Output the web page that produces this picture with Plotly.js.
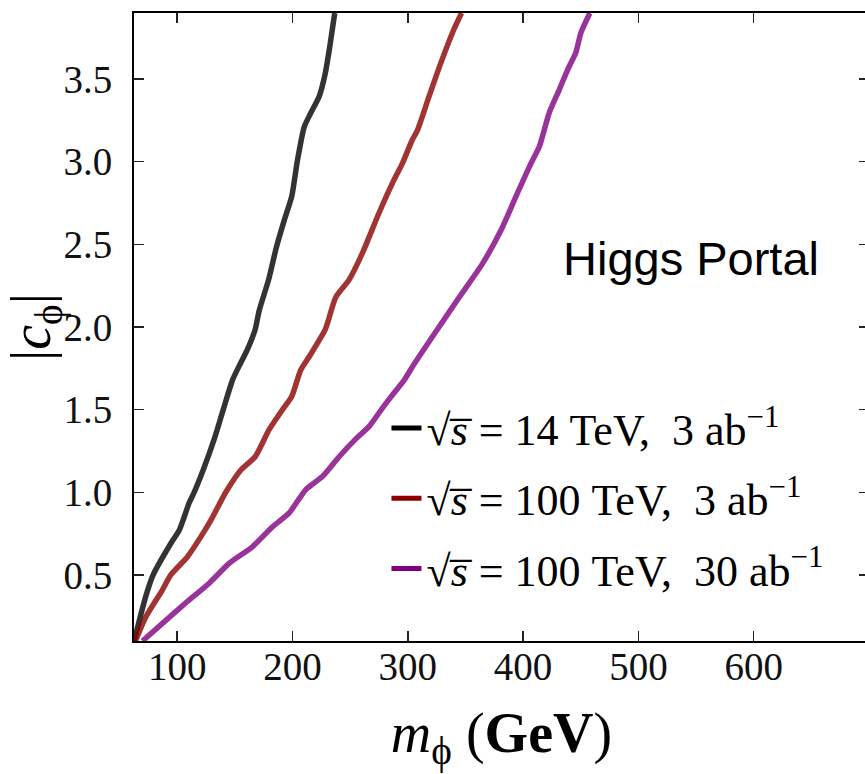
<!DOCTYPE html>
<html>
<head>
<meta charset="utf-8">
<script src="https://cdn.plot.ly/plotly-3.0.1.min.js"></script>
<style>
  html, body { margin: 0; padding: 0; background: #fff; overflow: hidden; }
  #chart { width: 869px; height: 774px; }
</style>
</head>
<body>
<div id="chart"></div>
<script>
// Exclusion reach on |c_phi| versus scalar mass, Higgs portal model
const mass14_3 = [62.6, 72.7, 79.1, 94.4, 101.7, 110.3, 114.7, 122.5, 132.0, 139.9, 148.0, 155.2, 160.9, 167.6, 171.1, 179.2, 186.1, 192.8, 199.3, 204.3, 210.1, 215.8, 223.1, 228.4, 232.4, 236.6];
const coup14_3 = [0.10, 0.37, 0.50, 0.69, 0.77, 0.935, 1.00, 1.135, 1.32, 1.50, 1.68, 1.785, 1.865, 1.985, 2.10, 2.285, 2.485, 2.645, 2.79, 3.01, 3.21, 3.295, 3.395, 3.535, 3.70, 3.90];

const mass100_3 = [63.8, 72.7, 87.2, 94.4, 108.9, 120.4, 129.1, 142.1, 155.2, 167.6, 179.8, 191.3, 199.3, 207.1, 214.4, 228.4, 237.5, 249.0, 260.5, 275.0, 288.0, 295.3, 303.7, 308.3, 318.4, 328.5, 339.9, 346.6];
const coup100_3 = [0.10, 0.245, 0.41, 0.50, 0.61, 0.73, 0.83, 1.00, 1.135, 1.215, 1.38, 1.50, 1.58, 1.74, 1.82, 1.985, 2.18, 2.285, 2.445, 2.69, 2.89, 2.99, 3.13, 3.19, 3.395, 3.595, 3.80, 3.90];

const mass100_30 = [69.9, 90.1, 107.3, 127.7, 145.0, 165.2, 182.5, 197.1, 211.4, 225.9, 240.4, 254.5, 266.7, 277.0, 285.7, 297.0, 304.0, 325.6, 344.6, 364.9, 380.8, 393.8, 406.8, 414.0, 422.6, 431.3, 438.5, 445.7, 450.1, 457.9];
const coup100_30 = [0.10, 0.225, 0.33, 0.45, 0.57, 0.67, 0.79, 0.875, 1.015, 1.095, 1.215, 1.32, 1.40, 1.50, 1.58, 1.68, 1.76, 1.985, 2.18, 2.385, 2.585, 2.79, 2.99, 3.09, 3.295, 3.435, 3.555, 3.66, 3.78, 3.90];

const sp = "\u00a0";
const seriesLabels = [
  "√<i>s\u0305</i>" + sp + "=" + sp + "14" + sp + "TeV," + sp + sp + "3" + sp + "ab<sup>−1</sup>",
  "√<i>s\u0305</i>" + sp + "=" + sp + "100" + sp + "TeV," + sp + sp + "3" + sp + "ab<sup>−1</sup>",
  "√<i>s\u0305</i>" + sp + "=" + sp + "100" + sp + "TeV," + sp + sp + "30" + sp + "ab<sup>−1</sup>"
];
const xTicks = [100, 200, 300, 400, 500, 600];
const yTicks = [0.5, 1.0, 1.5, 2.0, 2.5, 3.0, 3.5];
const yTickText = ["0.5", "1.0", "1.5", "2.0", "2.5", "3.0", "3.5"];

const baseColors = ["#000000", "#8b0000", "#800080"];
const curveColors = ["rgba(0,0,0,0.8)", "rgba(139,0,0,0.8)", "rgba(128,0,128,0.8)"];
const xs = [mass14_3, mass100_3, mass100_30];
const ys = [coup14_3, coup100_3, coup100_30];

const serif = "Liberation Serif, DejaVu Serif, serif";

const traces = [];
for (let i = 0; i < 3; i++) {
  traces.push({
    x: xs[i], y: ys[i], type: "scatter", mode: "lines",
    line: { color: curveColors[i], width: 5.5, shape: "spline", smoothing: 0.6 },
    showlegend: false, hoverinfo: "skip"
  });
}
// legend entries drawn with the full-strength colours
for (let i = 0; i < 3; i++) {
  traces.push({
    x: [null], y: [null], type: "scatter", mode: "lines",
    name: seriesLabels[i], legendgroup: "g" + i,
    line: { color: baseColors[i], width: 5 }
  });
}

const axisCommon = {
  showline: true, linecolor: "#000", linewidth: 2, mirror: "ticks",
  ticks: "inside", ticklen: 10, tickwidth: 1.5, tickcolor: "#222",
  showgrid: false, zeroline: false,
  tickfont: { family: serif, size: 39, color: "#111" }
};

const layout = {
  width: 869, height: 774,
  margin: { l: 134, r: 0, t: 13, b: 133 },
  paper_bgcolor: "#fff", plot_bgcolor: "#fff",
  xaxis: Object.assign({}, axisCommon, {
    range: [62.5, 700], tickvals: xTicks, ticklabelstandoff: -10,
    title: { text: "<i>m</i><sub>ϕ</sub>\u00a0(<b>GeV</b>)", font: { family: serif, size: 56, color: "#000" }, standoff: 26 }
  }),
  yaxis: Object.assign({}, axisCommon, {
    range: [0.1, 3.9], tickvals: yTicks, ticktext: yTickText, ticklabelstandoff: 12,
    title: { text: "|<i>c</i><sub>ϕ</sub>|", font: { family: serif, size: 56, color: "#000" }, standoff: 12 }
  }),
  legend: {
    x: 0.3435, xanchor: "left", y: 0.395, yanchor: "top",
    bgcolor: "rgba(0,0,0,0)", borderwidth: 0,
    font: { family: serif, size: 44, color: "#000" },
    tracegroupgap: 10, itemwidth: 30
  },
  annotations: [{
    x: 546, y: 2.415, xref: "x", yref: "y", showarrow: false,
    text: "Higgs Portal",
    font: { family: "Liberation Sans, Arial, sans-serif", size: 47, color: "#000" }
  }],
  showlegend: true
};

Plotly.newPlot("chart", traces, layout, { staticPlot: true, displayModeBar: false });
</script>
</body>
</html>
